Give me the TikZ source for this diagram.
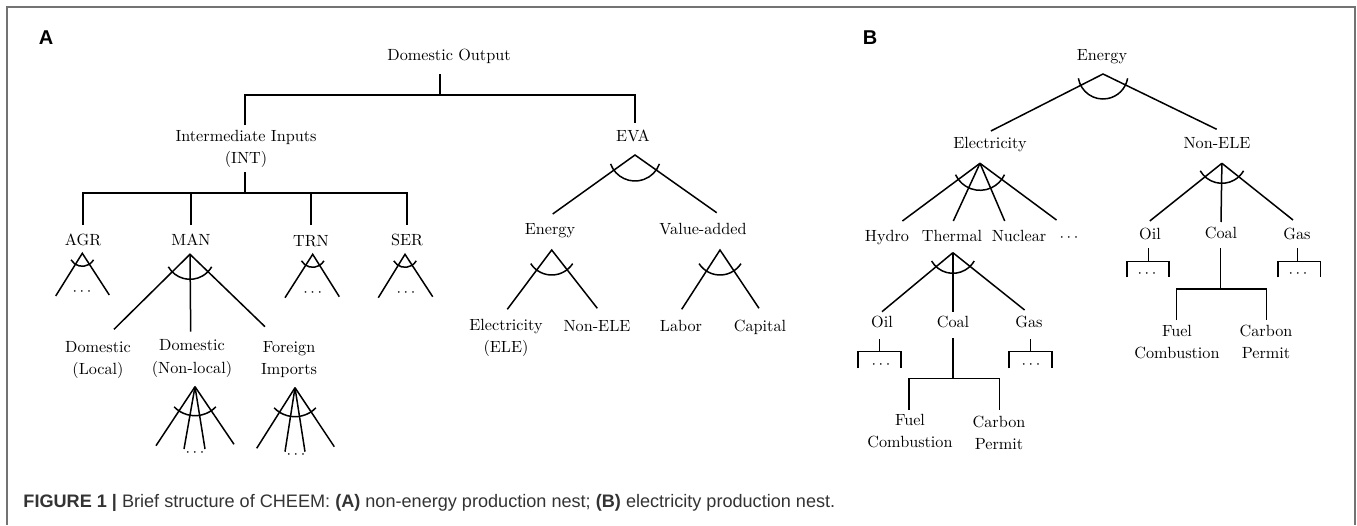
\documentclass[tikz,border=0pt]{standalone}
\usepackage{fontspec}
\newfontfamily\capfont{Liberation Sans}
\usetikzlibrary{calc}
\newcommand\nestarc[4]{% apex, radius, half angle, vertical shift of centre
  \draw ($(#1)+(0,#4)+({270-#3}:#2)$) arc[start angle={270-#3}, end angle={270+#3}, radius=#2];}
\begin{document}
\begin{tikzpicture}[x=1pt,y=1pt, line width=1.5pt,
  lbl/.style={inner sep=0pt, font=\fontsize{10}{13.6}\selectfont, align=center, scale=1.62},
  one/.style={lbl, text height=7.1pt, text depth=2.2pt},
  panel/.style={inner sep=0pt, font=\capfont\bfseries\fontsize{20}{22}\selectfont},
  brd/.style={draw=black!55, line width=2pt}]
\useasboundingbox (0,0) rectangle (1357,-525);
% frame
\coordinate (f1) at (7,-525); \coordinate (f2) at (7,-7);
\coordinate (f3) at (1355,-7); \coordinate (f4) at (1355,-525);
\draw[brd] (f1) -- (f2) -- (f3) -- (f4);
% caption
\node[anchor=west, inner sep=0pt, font=\capfont\fontsize{18.1}{22}\selectfont, text=black!80] (cap) at (22.7,-503)
  {\textbf{FIGURE 1 |} Brief structure of CHEEM: \textbf{(A)} non-energy production nest; \textbf{(B)} electricity production nest.};
% ================= Panel A =================
\node[panel] (pa) at (46,-38) {A};
\node[one] (dout) at (449,-57) {Domestic Output};
\node[lbl] (int) at (246,-149) {Intermediate Inputs\\(INT)};
\node[one] (eva) at (633,-138) {EVA};
\node[one] (agr) at (83,-242) {AGR};
\node[one] (man) at (191,-242) {MAN};
\node[one] (trn) at (311,-243) {TRN};
\node[one] (ser) at (407,-242) {SER};
\node[lbl] (dloc) at (98,-360) {Domestic\\(Local)};
\node[lbl] (dnon) at (192,-358.5) {Domestic\\(Non-local)};
\node[lbl] (fimp) at (289,-360) {Foreign\\Imports};
\node[lbl] (agrd) at (82,-292) {$\cdots$};
\node[lbl] (trnd) at (312.7,-292.7) {$\cdots$};
\node[lbl] (serd) at (406,-292.7) {$\cdots$};
\node[lbl] (nond) at (195,-453) {$\cdots$};
\node[lbl] (ford) at (296,-455) {$\cdots$};
\node[one] (ena) at (550,-231) {Energy};
\node[one] (vad) at (703,-231) {Value-added};
\node[lbl] (ele) at (506,-338) {Electricity\\(ELE)};
\node[one] (nea) at (597,-328) {Non-ELE};
\node[one] (lab) at (681,-328) {Labor};
\node[one] (cap2) at (760,-328) {Capital};
% top Leontief tree
\coordinate (dout-b) at (440,-74); \coordinate (dout-j) at (440,-95);
\coordinate (int-t) at (245,-125); \coordinate (eva-t) at (635,-123);
\draw (dout-b) -- (dout-j);
\draw (int-t) |- (dout-j) -| (eva-t);
\coordinate (int-b) at (245,-172); \coordinate (int-j) at (245,-193);
\coordinate (agr-t) at (83,-225); \coordinate (man-t) at (191,-225);
\coordinate (trn-t) at (311,-225); \coordinate (ser-t) at (407,-225);
\draw (int-b) -- (int-j);
\draw (agr-t) |- (int-j) -| (ser-t);
\draw (man-t) -- (man-t |- int-j);
\draw (trn-t) -- (trn-t |- int-j);
% EVA nest
\coordinate (eva-a) at (635,-155);
\coordinate (ena-t) at (552.7,-214); \coordinate (vad-t) at (716.7,-212.7);
\draw (ena-t) -- (eva-a) -- (vad-t);
\nestarc{eva-a}{26}{70}{0}
\coordinate (ena-a) at (551.7,-250);
\coordinate (ele-t) at (507.3,-309.3); \coordinate (nea-t) at (597.3,-308.3);
\draw (ele-t) -- (ena-a) -- (nea-t);
\nestarc{ena-a}{25}{57}{0}
\coordinate (vad-a) at (720,-250);
\coordinate (lab-t) at (681.7,-309.3); \coordinate (cap-t) at (759,-308.3);
\draw (lab-t) -- (vad-a) -- (cap-t);
\nestarc{vad-a}{25}{57}{0}
% AGR TRN SER nests
\coordinate (agr-a) at (82.3,-253.3);
\coordinate (agr-l) at (55.7,-296); \coordinate (agr-r) at (109.3,-295);
\draw (agr-l) -- (agr-a) -- (agr-r);
\nestarc{agr-a}{13}{60}{0}
\coordinate (trn-a) at (312.7,-254.3);
\coordinate (trn-l) at (285,-297.7); \coordinate (trn-r) at (339.3,-296.7);
\draw (trn-l) -- (trn-a) -- (trn-r);
\nestarc{trn-a}{13}{60}{0}
\coordinate (ser-a) at (405,-254.3);
\coordinate (ser-l) at (378.3,-297.7); \coordinate (ser-r) at (432.7,-296.7);
\draw (ser-l) -- (ser-a) -- (ser-r);
\nestarc{ser-a}{13}{60}{0}
% MAN nest
\coordinate (man-a) at (190,-254.3);
\coordinate (dloc-t) at (114,-329.3); \coordinate (dnon-t) at (190.7,-331.7); \coordinate (fimp-t) at (265,-326.7);
\draw (dloc-t) -- (man-a) -- (fimp-t);
\draw (man-a) -- (dnon-t);
\nestarc{man-a}{25}{60}{0}
% sub nests
\coordinate (dnon-a) at (195,-386.7);
\coordinate (n1) at (156,-445.7); \coordinate (n2) at (184,-449);
\coordinate (n3) at (205,-449); \coordinate (n4) at (234,-444.3);
\foreach \p in {n1,n2,n3,n4} \draw (dnon-a) -- (\p);
\nestarc{dnon-a}{29}{46}{0}
\coordinate (fimp-a) at (295,-387.7);
\coordinate (m1) at (256.7,-448.3); \coordinate (m2) at (285,-451.7);
\coordinate (m3) at (305,-451.7); \coordinate (m4) at (334.3,-446.7);
\foreach \p in {m1,m2,m3,m4} \draw (fimp-a) -- (\p);
\nestarc{fimp-a}{29}{46}{0}
% ================= Panel B =================
\node[panel] (pb) at (870,-38) {B};
\node[one] (enb) at (1102,-57) {Energy};
\node[one] (elc) at (990,-145) {Electricity};
\node[one] (neb) at (1217,-145) {Non-ELE};
\node[one] (hyd) at (887,-238) {Hydro};
\node[one] (the) at (952,-238) {Thermal};
\node[one] (nuc) at (1019,-238) {Nuclear};
\node[lbl] (eld) at (1069,-238) {$\cdots$};
\node[one] (oilr) at (1150,-236) {Oil};
\node[one] (coar) at (1221,-235) {Coal};
\node[one] (gasr) at (1297,-236) {Gas};
\node[one] (oilt) at (882,-324) {Oil};
\node[one] (coat) at (953,-324) {Coal};
\node[one] (gast) at (1029,-324) {Gas};
\node[lbl] (oiltd) at (881,-365) {$\cdots$};
\node[lbl] (gastd) at (1031,-365) {$\cdots$};
\node[lbl] (fuelt) at (910,-431) {Fuel\\Combustion};
\node[lbl] (carbt) at (999,-432.5) {Carbon\\Permit};
\node[lbl] (oilrd) at (1147,-274) {$\cdots$};
\node[lbl] (gasrd) at (1298,-274) {$\cdots$};
\node[lbl] (fuelr) at (1177,-341.7) {Fuel\\Combustion};
\node[lbl] (carbr) at (1266,-341.7) {Carbon\\Permit};
% Energy nest
\coordinate (enb-a) at (1103,-74);
\coordinate (elc-t) at (990.9,-131); \coordinate (neb-t) at (1216.7,-129.3);
\draw (elc-t) -- (enb-a) -- (neb-t);
\nestarc{enb-a}{25}{80}{0}
% Electricity nest
\coordinate (elc-a) at (980,-163.3);
\coordinate (hyd-t) at (902.4,-221); \coordinate (the-t) at (953.3,-221);
\coordinate (nuc-t) at (1004.7,-221); \coordinate (eld-t) at (1056.5,-220);
\foreach \p in {hyd-t,the-t,nuc-t,eld-t} \draw (elc-a) -- (\p);
\nestarc{elc-a}{27}{65}{0}
% Non-ELE nest
\coordinate (neb-a) at (1221.9,-163.3);
\coordinate (oilr-t) at (1149.8,-221); \coordinate (coar-t) at (1221,-222); \coordinate (gasr-t) at (1293,-220);
\foreach \p in {oilr-t,coar-t,gasr-t} \draw (neb-a) -- (\p);
\nestarc{neb-a}{25}{60}{5}
% Thermal nest
\coordinate (the-a) at (952.9,-252.7);
\coordinate (oilt-t) at (882,-311.7); \coordinate (coat-t) at (952.9,-311.7); \coordinate (gast-t) at (1024.6,-310);
\foreach \p in {oilt-t,coat-t,gast-t} \draw (the-a) -- (\p);
\nestarc{the-a}{24.6}{60}{4}
% thermal brackets
\coordinate (oilt-b) at (879.5,-339.3); \coordinate (oilt-j) at (879.5,-351.7);
\coordinate (oilt-l) at (857.9,-368.3); \coordinate (oilt-r) at (901,-368.3);
\draw (oilt-b) -- (oilt-j); \draw (oilt-l) |- (oilt-j) -| (oilt-r);
\coordinate (gast-b) at (1030.6,-339.3); \coordinate (gast-j) at (1030.6,-351.7);
\coordinate (gast-l) at (1009,-368.3); \coordinate (gast-r) at (1052.2,-368.3);
\draw (gast-b) -- (gast-j); \draw (gast-l) |- (gast-j) -| (gast-r);
\coordinate (coat-b) at (952.9,-338.3); \coordinate (coat-j) at (952.9,-378.3);
\coordinate (fuelt-t) at (908.8,-410); \coordinate (carbt-t) at (999.5,-410);
\draw (coat-b) -- (coat-j); \draw (fuelt-t) |- (coat-j) -| (carbt-t);
% Non-ELE brackets
\coordinate (oilr-b) at (1148.5,-248.3); \coordinate (oilr-j) at (1148.5,-261.7);
\coordinate (oilr-l) at (1126.9,-277.3); \coordinate (oilr-r) at (1169.2,-277.3);
\draw (oilr-b) -- (oilr-j); \draw (oilr-l) |- (oilr-j) -| (oilr-r);
\coordinate (gasr-b) at (1297.4,-248.3); \coordinate (gasr-j) at (1297.4,-261.7);
\coordinate (gasr-l) at (1278,-277.3); \coordinate (gasr-r) at (1320.3,-277.3);
\draw (gasr-b) -- (gasr-j); \draw (gasr-l) |- (gasr-j) -| (gasr-r);
\coordinate (coar-b) at (1220.6,-248); \coordinate (coar-j) at (1220.6,-289);
\coordinate (fuelr-t) at (1176.5,-320); \coordinate (carbr-t) at (1266.4,-320);
\draw (coar-b) -- (coar-j); \draw (fuelr-t) |- (coar-j) -| (carbr-t);
\end{tikzpicture}
\end{document}
